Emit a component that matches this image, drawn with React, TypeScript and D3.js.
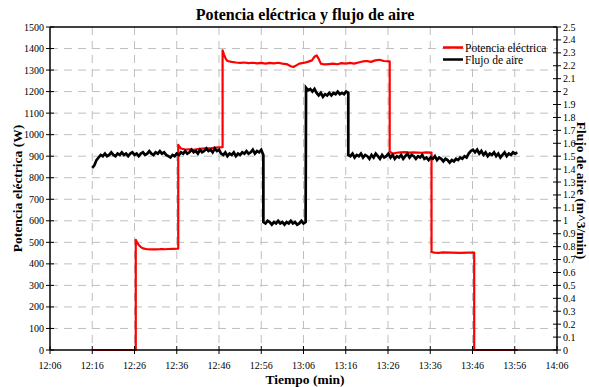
import React from "react";
import * as d3 from "d3";

// Time axis: minutes elapsed since 12:06
const timeTickLabels = ["12:06","12:16","12:26","12:36","12:46","12:56","13:06","13:16","13:26","13:36","13:46","13:56","14:06"];
const powerTicks = [0,100,200,300,400,500,600,700,800,900,1000,1100,1200,1300,1400,1500];
const flowTicks = [0,0.1,0.2,0.3,0.4,0.5,0.6,0.7,0.8,0.9,1,1.1,1.2,1.3,1.4,1.5,1.6,1.7,1.8,1.9,2,2.1,2.2,2.3,2.4,2.5];

// Potencia eléctrica (W): [minute, watts]
const powerSeries: [number, number][] = [
  [10,0],[20.3,0],[20.3,512],[20.6,500],[21,488],[21.5,478],[22,472],[23,468],[24,467],[25,467],[26,468],[27,468],[28,469],[29,470],[30.35,471],
  [30.35,953],[30.6,945],[31,936],[32,931],[33,932],[34,930],[35,933],[36,935],[37,937],[38,936],[39,940],[40.85,942],
  [40.85,1392],[41.2,1372],[41.6,1352],[42,1342],[43,1338],[44,1335],[45,1333],[46,1335],[47,1332],[48,1334],[49,1331],[50,1333],[51,1330],[52,1333],[53,1331],[54,1334],[55,1330],[56,1328],[57,1318],[57.6,1314],[58.3,1322],[59,1330],[60,1333],[61,1338],[62,1345],[62.6,1362],[63.1,1368],[63.6,1352],[64.1,1330],[65,1326],[66,1328],[67,1330],[68,1327],[69,1332],[70,1330],[71,1333],[72,1330],[73,1335],[74,1340],[75,1342],[76,1338],[77,1345],[78,1348],[79,1342],[80.4,1340],
  [80.4,924],[80.8,915],[81.5,913],[82,916],[83,918],[84,919],[85,917],[86,918],[87,917],[88,916],[89,918],[90.3,917],
  [90.3,455],[91,452],[92,451],[93,453],[95,452],[97,451],[99,452],[100.4,452],
  [100.4,0],[110.7,0],
];

// Flujo de aire (m^3/min), sampled every 0.5 min inside each segment
const flowSegA_start = 10;
const flowSegA = [1.41,1.43,1.47,1.49,1.51,1.50,1.52,1.50,1.51,1.53,1.51,1.50,1.52,1.51,1.53,1.51,1.52,1.50,1.52,1.53,1.51,1.52,1.50,1.52,1.53,1.51,1.52,1.54,1.52,1.51,1.53,1.52,1.54,1.52,1.53,1.51,1.50,1.49,1.51,1.50,1.52,1.51,1.53,1.52,1.54,1.52,1.53,1.55,1.53,1.54,1.52,1.55,1.53,1.54,1.56,1.54,1.55,1.53,1.56,1.54,1.55,1.52,1.51,1.53,1.50,1.52,1.51,1.53,1.50,1.52,1.51,1.53,1.52,1.54,1.52,1.53,1.55,1.52,1.54,1.53,1.55,1.51];
const flowSegB_start = 50.5;
const flowSegB = [0.99,0.98,1.00,0.99,0.97,0.99,0.98,1.00,0.98,0.99,0.97,0.99,0.98,1.00,0.98,0.99,0.97,0.98,1.00,0.98,0.99];
const flowSegC_start = 60.6;
const flowSegC = [2.03,2.01,2.02,2.00,2.02,1.99,1.97,1.99,1.96,1.98,1.97,1.99,1.97,1.99,1.98,2.00,1.98,1.99,1.98,2.00,1.99];
const flowSegD_start = 70.6;
const flowSegD = [1.51,1.50,1.52,1.49,1.51,1.50,1.52,1.49,1.51,1.50,1.48,1.51,1.49,1.52,1.50,1.48,1.51,1.49,1.50,1.52,1.49,1.51,1.48,1.50,1.49,1.51,1.48,1.50,1.52,1.49,1.51,1.50,1.48,1.50,1.49,1.51,1.48,1.49,1.47,1.49,1.48,1.50,1.47,1.49,1.48,1.46,1.48,1.47,1.45,1.47,1.46,1.48,1.47,1.49,1.48,1.50,1.49,1.52,1.54,1.55,1.53,1.55,1.52,1.54,1.51,1.53,1.50,1.52,1.51,1.53,1.50,1.52,1.49,1.51,1.53,1.50,1.52,1.51,1.53,1.52,1.53];

const W = 589, H = 387;
const M = { left: 50, right: 557, top: 27, bottom: 350 };
const FONT = "'Liberation Serif', 'Times New Roman', serif";

export default function App() {
  const x = d3.scaleLinear().domain([0, 120]).range([M.left, M.right]);
  const yP = d3.scaleLinear().domain([0, 1500]).range([M.bottom, M.top]);
  const yF = d3.scaleLinear().domain([0, 2.5]).range([M.bottom, M.top]);

  const seg = (start: number, vals: number[]) => vals.map((v, i) => [start + i * 0.5, v] as [number, number]);
  const flowSeries: [number, number][] = [
    ...seg(flowSegA_start, flowSegA),
    ...seg(flowSegB_start, flowSegB),
    ...seg(flowSegC_start, flowSegC),
    ...seg(flowSegD_start, flowSegD),
  ];

  const powerLine = d3.line<[number, number]>().x(d => x(d[0])).y(d => yP(d[1]));
  const flowLine = d3.line<[number, number]>().x(d => x(d[0])).y(d => yF(d[1]));

  const grid = "#bfbfbf";
  const ts = (size: number, bold = false): React.CSSProperties => ({ fontFamily: FONT, fontSize: size + "px", fontWeight: bold ? 700 : 400 });
  return (
    <svg width={W} height={H} style={{ position: "absolute", left: 0, top: 0, background: "#fff" }}>
      <rect x={0} y={0} width={W} height={H} fill="#fff" />
      {/* gridlines */}
      {powerTicks.filter(t => t > 0 && t < 1500).map(t => (
        <line key={"h" + t} x1={M.left} x2={M.right} y1={yP(t)} y2={yP(t)} stroke={grid} strokeWidth={1} strokeDasharray="8,6" />
      ))}
      {timeTickLabels.map((l, i) => i > 0 && i < timeTickLabels.length - 1 ? (
        <line key={"v" + l} x1={x(i * 10)} x2={x(i * 10)} y1={M.top} y2={M.bottom} stroke={grid} strokeWidth={1} strokeDasharray="8,6" />
      ) : null)}
      {/* series */}
      <path d={powerLine(powerSeries) || ""} fill="none" stroke="#ff0000" strokeWidth={2.2} strokeLinejoin="round" />
      <path d={flowLine(flowSeries) || ""} fill="none" stroke="#000" strokeWidth={2.7} strokeLinejoin="miter" />
      {/* frame */}
      <line x1={M.left} x2={M.right} y1={M.top} y2={M.top} stroke="#000" strokeWidth={1.5} />
      <line x1={M.left} x2={M.right} y1={M.bottom} y2={M.bottom} stroke="#000" strokeWidth={1.5} />
      <line x1={M.left} x2={M.left} y1={M.top} y2={M.bottom} stroke="#000" strokeWidth={1.5} />
      <line x1={M.right} x2={M.right} y1={M.top} y2={M.bottom} stroke="#000" strokeWidth={1.5} />
      {/* left axis */}
      {powerTicks.map(t => (
        <g key={"lp" + t}>
          <line x1={M.left - 4} x2={M.left + 4} y1={yP(t)} y2={yP(t)} stroke="#000" strokeWidth={1} />
          <text x={M.left - 6} y={yP(t)} dy="0.35em" textAnchor="end" style={ts(10)}>{t}</text>
        </g>
      ))}
      {/* right axis */}
      {flowTicks.map(t => (
        <g key={"rf" + t}>
          <line x1={M.right - 4} x2={M.right + 4} y1={yF(t)} y2={yF(t)} stroke="#000" strokeWidth={1} />
          <text x={M.right + 6} y={yF(t)} dy="0.35em" textAnchor="start" style={ts(10)}>{String(+t.toFixed(1))}</text>
        </g>
      ))}
      {/* bottom axis */}
      {timeTickLabels.map((l, i) => (
        <g key={"bt" + l}>
          <line x1={x(i * 10)} x2={x(i * 10)} y1={M.bottom - 4} y2={M.bottom + 4} stroke="#000" strokeWidth={1} />
          <text x={x(i * 10)} y={M.bottom + 19} textAnchor="middle" style={ts(10)}>{l}</text>
        </g>
      ))}
      {/* titles */}
      <text x={305} y={20} textAnchor="middle" style={ts(16, true)}>Potencia eléctrica y flujo de aire</text>
      <text x={305} y={384} textAnchor="middle" style={ts(13.5, true)}>Tiempo (min)</text>
      <text transform={`translate(22,${(M.top + M.bottom) / 2}) rotate(-90)`} textAnchor="middle" style={ts(13.5, true)}>Potencia eléctrica (W)</text>
      <text transform={`translate(577,${(M.top + M.bottom) / 2 + 2}) rotate(90)`} textAnchor="middle" style={ts(13.5, true)}>Flujo de aire (m^3/min)</text>
      {/* legend */}
      <line x1={443} x2={463} y1={47.5} y2={47.5} stroke="#ff0000" strokeWidth={2.5} />
      <text x={465} y={51.5} style={ts(11.5)}>Potencia eléctrica</text>
      <line x1={443} x2={463} y1={59.5} y2={59.5} stroke="#000" strokeWidth={2.5} />
      <text x={465} y={63.5} style={ts(11.5)}>Flujo de aire</text>
    </svg>
  );
}
